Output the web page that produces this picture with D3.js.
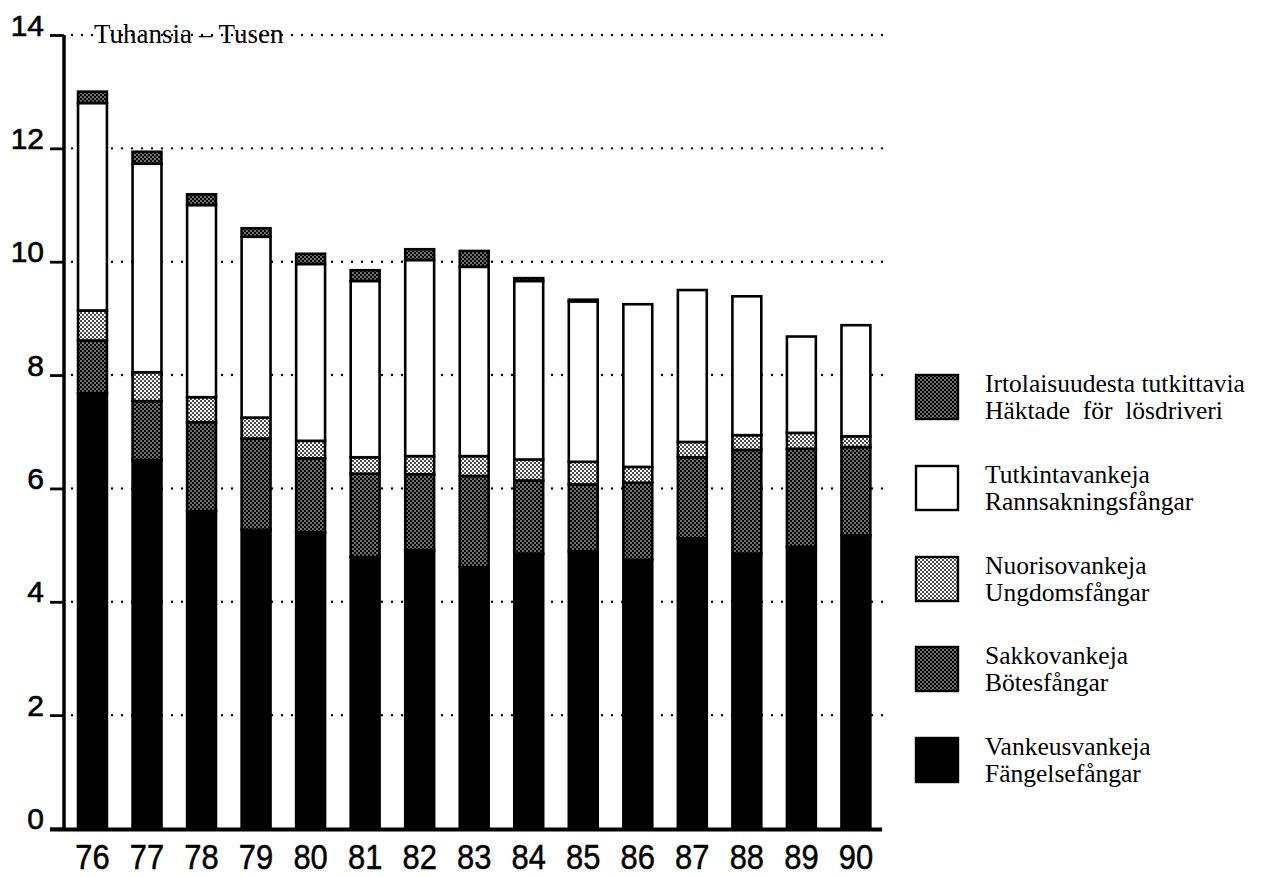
<!DOCTYPE html>
<html>
<head>
<meta charset="utf-8">
<script src="https://cdn.jsdelivr.net/npm/d3@7"></script>
<style>
  html, body { margin: 0; padding: 0; background: #fff; }
  svg { display: block; }
</style>
</head>
<body>
<svg id="chart" width="1275" height="877"></svg>
<script>
// ---- data (thousands) ----
const years = ["76","77","78","79","80","81","82","83","84","85","86","87","88","89","90"];
const vankeus   = [7.68, 6.50, 5.60, 5.27, 5.23, 4.79, 4.91, 4.61, 4.85, 4.89, 4.74, 5.12, 4.85, 4.97, 5.17];
const sakko     = [0.93, 1.04, 1.57, 1.61, 1.30, 1.47, 1.34, 1.61, 1.29, 1.18, 1.36, 1.43, 1.83, 1.73, 1.56];
const nuoriso   = [0.53, 0.51, 0.44, 0.37, 0.31, 0.29, 0.32, 0.35, 0.37, 0.40, 0.28, 0.27, 0.26, 0.28, 0.19];
const tutkinta  = [3.66, 3.68, 3.39, 3.19, 3.12, 3.11, 3.46, 3.34, 3.15, 2.83, 2.87, 2.68, 2.45, 1.70, 1.96];
const irtolais  = [0.20, 0.21, 0.19, 0.15, 0.18, 0.19, 0.19, 0.28, 0.05, 0.03, 0.00, 0.00, 0.00, 0.00, 0.00];
const yTicks = [0, 2, 4, 6, 8, 10, 12, 14];
const unitLabel = "Tuhansia \u2013 Tusen";
const seriesKeys = ["vankeus", "sakko", "nuoriso", "tutkinta", "irtolais"];
const legendItems = [
  { key: "irtolais", lines: ["Irtolaisuudesta tutkittavia", "Häktade  för  lösdriveri"] },
  { key: "tutkinta", lines: ["Tutkintavankeja", "Rannsakningsfångar"] },
  { key: "nuoriso",  lines: ["Nuorisovankeja", "Ungdomsfångar"] },
  { key: "sakko",    lines: ["Sakkovankeja", "Bötesfångar"] },
  { key: "vankeus",  lines: ["Vankeusvankeja", "Fängelsefångar"] }
];

const table = years.map((yr, i) => ({
  year: yr, vankeus: vankeus[i], sakko: sakko[i], nuoriso: nuoriso[i],
  tutkinta: tutkinta[i], irtolais: irtolais[i]
}));

const svg = d3.select("#chart");

// ---- patterns ----
const defs = svg.append("defs");
const dark = defs.append("pattern").attr("id", "pDark").attr("patternUnits", "userSpaceOnUse")
  .attr("width", 4).attr("height", 4);
dark.append("rect").attr("width", 4).attr("height", 4).attr("fill", "#000");
dark.append("circle").attr("cx", 1).attr("cy", 1).attr("r", 0.8).attr("fill", "#fff");
dark.append("circle").attr("cx", 3).attr("cy", 3).attr("r", 0.8).attr("fill", "#fff");

const light = defs.append("pattern").attr("id", "pLight").attr("patternUnits", "userSpaceOnUse")
  .attr("width", 4).attr("height", 4);
light.append("rect").attr("width", 4).attr("height", 4).attr("fill", "#fff");
light.append("circle").attr("cx", 1).attr("cy", 1).attr("r", 0.95).attr("fill", "#000");
light.append("circle").attr("cx", 3).attr("cy", 3).attr("r", 0.95).attr("fill", "#000");

const fills = {
  vankeus: "#000",
  sakko: "url(#pDark)",
  nuoriso: "url(#pLight)",
  tutkinta: "#fff",
  irtolais: "url(#pDark)"
};

// ---- scales ----
const x = d3.scaleBand().domain(years).range([64.4, 884]).paddingInner(0.47).paddingOuter(0.25);
const y = d3.scaleLinear().domain([0, 14]).range([828.5, 35]);
const axisX = 64;
const gridEnd = 884;

// ---- gridlines (dotted) ----
const grid = svg.append("g").attr("class", "grid");
grid.selectAll("line").data(yTicks.filter(d => d > 0)).join("line")
  .attr("x1", axisX + 8).attr("x2", gridEnd)
  .attr("y1", d => y(d)).attr("y2", d => y(d))
  .attr("stroke", "#000").attr("stroke-width", 2.4)
  .attr("stroke-linecap", "round").attr("stroke-dasharray", "0,10");

// ---- unit label ----
svg.append("text").attr("x", 94).attr("y", 43)
  .attr("font-family", "'Liberation Serif', 'Times New Roman', serif")
  .attr("font-size", 27).attr("fill", "#000").text(unitLabel);

// ---- stacked bars ----
const stack = d3.stack().keys(seriesKeys);
const layers = stack(table);
const barG = svg.append("g");
layers.forEach(layer => {
  barG.append("g").selectAll("rect").data(layer.filter(d => d[1] - d[0] > 0)).join("rect")
    .attr("x", d => x(d.data.year))
    .attr("width", x.bandwidth())
    .attr("y", d => y(d[1]))
    .attr("height", d => y(d[0]) - y(d[1]))
    .attr("fill", fills[layer.key])
    .attr("stroke", "#000").attr("stroke-width", 2.6);
});

// ---- axes ----
const yAxis = d3.axisLeft(y).tickValues(yTicks).tickSize(14).tickSizeOuter(0).tickPadding(6);
const yg = svg.append("g").attr("transform", `translate(${axisX},0)`).call(yAxis);
yg.select(".domain").attr("stroke-width", 3.5).attr("d", `M0,${y(14)}V${y(0)}`);
yg.selectAll(".tick line").attr("stroke-width", 2.8);
yg.selectAll(".tick text")
  .attr("font-family", "'Liberation Sans', Arial, Helvetica, sans-serif")
  .attr("font-size", 30).attr("fill", "#000")
  .attr("stroke", "#000").attr("stroke-width", 0.6)
  .attr("dy", "0").attr("x", -20);

const xAxis = d3.axisBottom(x).tickSize(0).tickPadding(0);
const xg = svg.append("g").attr("transform", `translate(0,${y(0) + 1})`).call(xAxis);
xg.select(".domain").attr("stroke-width", 4).attr("d", `M50,0H${gridEnd - 2}`);
xg.selectAll(".tick text")
  .attr("font-family", "'Liberation Sans', Arial, Helvetica, sans-serif")
  .attr("font-size", 36).attr("fill", "#000")
  .attr("stroke", "#000").attr("stroke-width", 0.5)
  .attr("dy", "0").attr("y", 40).attr("x", 0)
  .attr("transform", "scale(0.86,1)");

// ---- legend ----
const legTop = [375, 466, 557, 647, 738];
const leg = svg.append("g");
legendItems.forEach((it, i) => {
  const g = leg.append("g").attr("transform", `translate(916,${legTop[i]})`);
  g.append("rect").attr("width", 42).attr("height", 44)
    .attr("fill", fills[it.key]).attr("stroke", "#000").attr("stroke-width", 2.4);
  it.lines.forEach((ln, j) => {
    g.append("text").attr("x", 69).attr("y", 17 + j * 26.5)
      .attr("font-family", "'Liberation Serif', 'Times New Roman', serif")
      .attr("font-size", 25.5).attr("fill", "#000")
      .attr("xml:space", "preserve").style("white-space", "pre")
      .text(ln);
  });
});
</script>
</body>
</html>
